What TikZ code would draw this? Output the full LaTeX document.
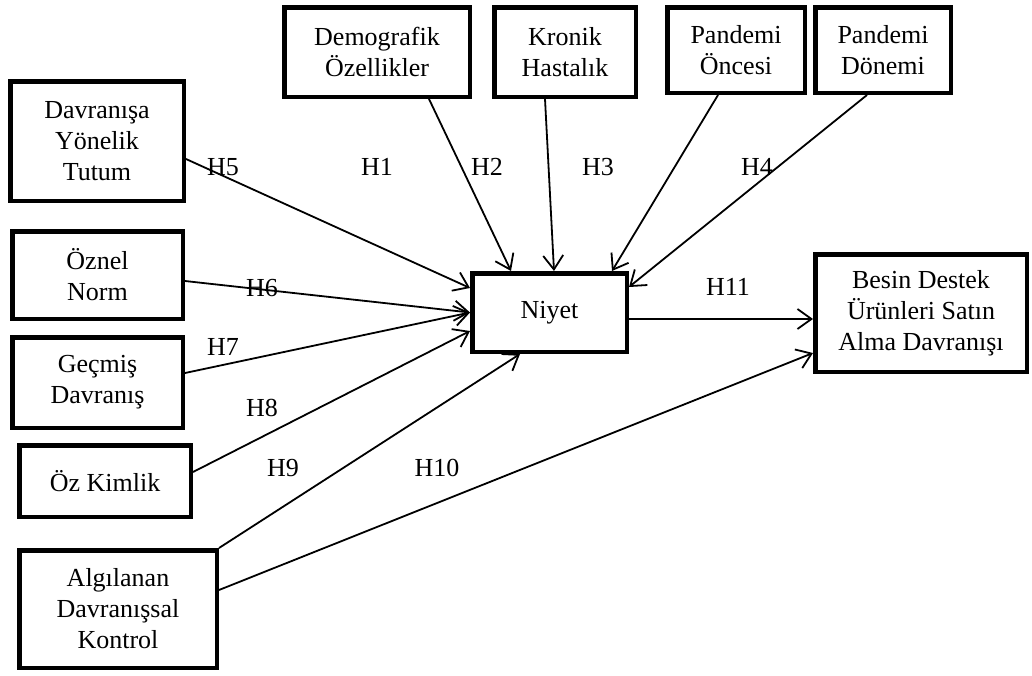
\documentclass[tikz,border=0pt]{standalone}
\usepackage{fontspec}
\setmainfont{Liberation Serif}
\usetikzlibrary{arrows.meta}
\tikzset{
  box/.style={draw, line width=4.5pt, fill=white, align=center, inner sep=0pt,
    font=\fontsize{26}{31}\selectfont},
  hyp/.style={font=\fontsize{26}{31}\selectfont, inner sep=0pt},
  link/.style={line width=1.8pt, -{Straight Barb[length=14pt,width=20pt,line width=1.8pt]}},
}
\begin{document}
\begin{tikzpicture}[x=1pt,y=-1pt]
\useasboundingbox (0,0) rectangle (1032,675);

% upper row of factors
\node[box, minimum width=185.5pt, minimum height=89.5pt] (dem) at (377,52) {Demografik\\Özellikler};
\node[box, minimum width=141.5pt, minimum height=89.5pt] (kro) at (565,52) {Kronik\\Hastalık};
\node[box, minimum width=137.5pt, minimum height=85.5pt] (pon) at (736,50) {Pandemi\\Öncesi};
\node[box, minimum width=135.5pt, minimum height=85.5pt] (pdo) at (883,50) {Pandemi\\Dönemi};

% left column of factors
\node[box, minimum width=173.5pt, minimum height=119.5pt] (dav) at (97,141) {Davranışa\\Yönelik\\Tutum};
\node[box, minimum width=170.5pt, minimum height=87.5pt] (ozn) at (97.5,275) {Öznel\\Norm};
\node[box, minimum width=170.5pt, minimum height=90.5pt] (gec) at (97.5,382.5) {Geçmiş\\Davranış};
\node[box, minimum width=171.5pt, minimum height=71.5pt] (ozk) at (105,481) {Öz Kimlik};
\node[box, minimum width=197.5pt, minimum height=117.5pt] (alg) at (118,609) {Algılanan\\Davranışsal\\Kontrol};

% intention and behaviour
\node[box, minimum width=154.5pt, minimum height=78.5pt] (niy) at (549.5,312.5) {Niyet};
\node[box, minimum width=211.5pt, minimum height=117.5pt] (bes) at (921,313) {Besin Destek\\Ürünleri Satın\\Alma Davranışı};

% paths into Niyet
\draw[link] ([xshift=52pt]dem.south) -- ([xshift=-38.5pt]niy.north);
\draw[link] ([xshift=-20pt]kro.south) -- ([xshift=4.5pt]niy.north);
\draw[link] ([xshift=-18pt]pon.south) -- ([xshift=62.5pt]niy.north);
\draw[link] ([xshift=-16pt]pdo.south) -- ([yshift=25.5pt]niy.east);
\draw[link] ([yshift=-18pt]dav.east) -- ([yshift=24.5pt]niy.west);
\draw[link] ([yshift=-6pt]ozn.east) -- (niy.west);
\draw[link] ([yshift=9.5pt]gec.east) -- (niy.west);
\draw[link] ([yshift=9pt]ozk.east) -- ([yshift=-18.5pt]niy.west);
\draw[link] (alg.north east) -- ([xshift=-29.5pt]niy.south);

% paths into behaviour
\draw[link] ([yshift=-6.5pt]niy.east) -- ([yshift=-6pt]bes.west);
\draw[link] ([yshift=19pt]alg.east) -- ([yshift=-40pt]bes.west);

% hypothesis labels
\node[hyp] (h1) at (377,167) {H1};
\node[hyp] (h2) at (487,167) {H2};
\node[hyp] (h3) at (598,167) {H3};
\node[hyp] (h4) at (757,167) {H4};
\node[hyp] (h5) at (223,167) {H5};
\node[hyp] (h6) at (262,288) {H6};
\node[hyp] (h7) at (223,347) {H7};
\node[hyp] (h8) at (262,408) {H8};
\node[hyp] (h9) at (283,468) {H9};
\node[hyp] (h10) at (437,468) {H10};
\node[hyp] (h11) at (728,287) {H11};
\end{tikzpicture}
\end{document}
